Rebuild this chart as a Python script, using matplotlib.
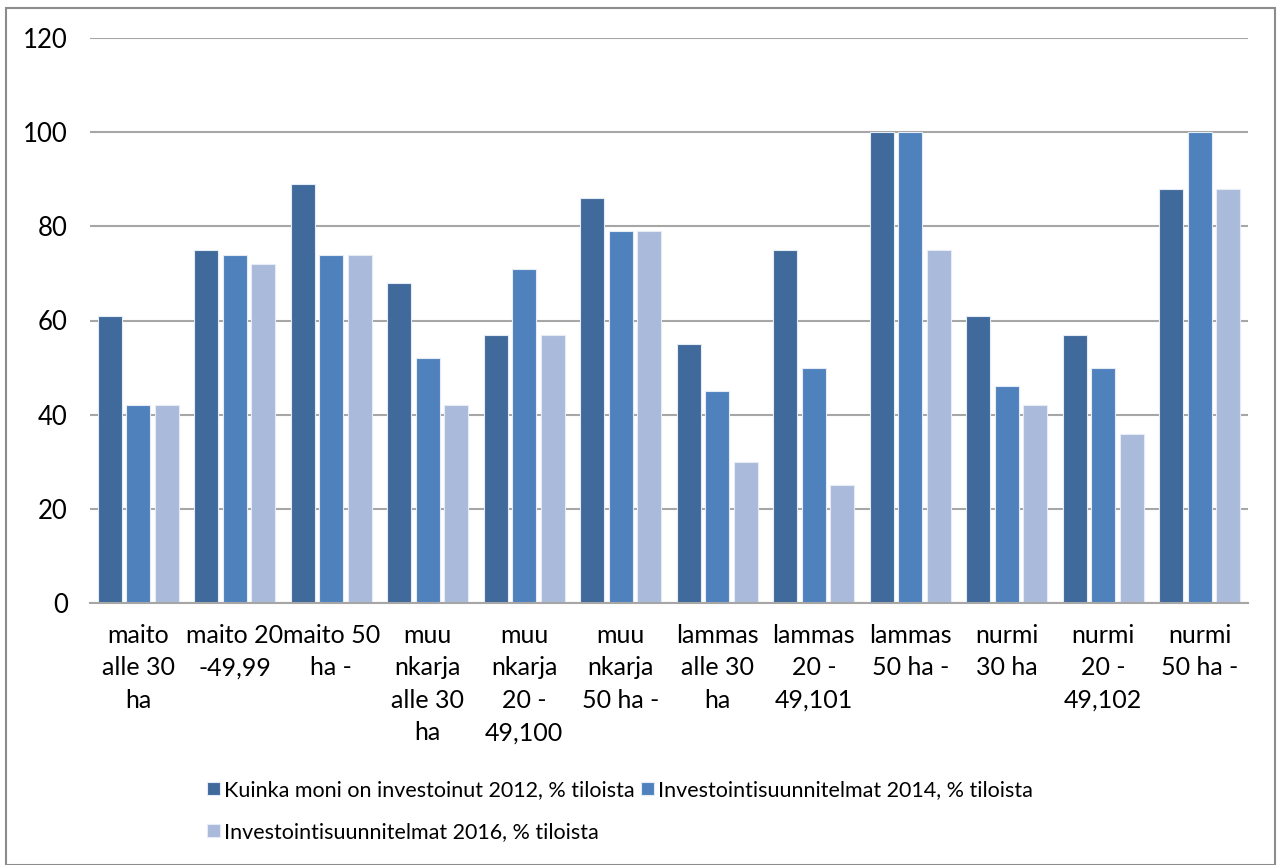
import matplotlib
matplotlib.use("Agg")
import matplotlib.pyplot as plt
import numpy as np
from matplotlib.patches import Rectangle

categories = ["maito\nalle 30\nha", "maito 20\n-49,99", "maito 50\nha -",
              "muu\nnkarja\nalle 30\nha", "muu\nnkarja\n20 -\n49,100", "muu\nnkarja\n50 ha -",
              "lammas\nalle 30\nha", "lammas\n20 -\n49,101", "lammas\n50 ha -",
              "nurmi\n30 ha", "nurmi\n20 -\n49,102", "nurmi\n50 ha -"]
series_names = ["Kuinka moni on investoinut 2012, % tiloista",
                "Investointisuunnitelmat 2014, % tiloista",
                "Investointisuunnitelmat 2016, % tiloista"]
s2012 = [61, 75, 89, 68, 57, 86, 55, 75, 100, 61, 57, 88]
s2014 = [42, 74, 74, 52, 71, 79, 45, 50, 100, 46, 50, 100]
s2016 = [42, 72, 74, 42, 57, 79, 30, 25, 75, 42, 36, 88]
yticks = [0, 20, 40, 60, 80, 100, 120]

colors = ["#3F6A9B", "#4F81BD", "#AABADA"]
plt.rcParams['font.family'] = ['Lato', 'DejaVu Sans']

fig = plt.figure(figsize=(12.77, 8.65), dpi=100)
ax = fig.add_axes([90/1277, (865-603)/865, (1248-90)/1277, (603-38)/865])

x = np.arange(len(categories))
step = 0.295
width = 0.245
for i, (vals, c, name) in enumerate(zip([s2012, s2014, s2016], colors, series_names)):
    ax.bar(x + (i-1)*step, vals, width=width, color=c, edgecolor="#E6ECF5",
           linewidth=0.8, label=name, zorder=3)

ax.set_xlim(-0.5, len(categories)-0.5)
ax.set_ylim(0, 120)
ax.set_yticks(yticks)
ax.set_yticklabels([str(v) for v in yticks], fontsize=18.5)
ax.tick_params(axis='y', length=0, pad=16)
ax.set_xticks(x)
ax.set_xticklabels(categories, fontsize=18, linespacing=1.5, va='top')
ax.tick_params(axis='x', length=0, pad=15)
ax.grid(axis='y', color='#A6A6A6', linewidth=1.5, zorder=0)
for s in ['left', 'right', 'top']:
    ax.spines[s].set_visible(False)
ax.spines['bottom'].set_color('#A6A6A6')
ax.spines['bottom'].set_linewidth(1.5)
ax.spines['bottom'].set_zorder(4)

h, l = ax.get_legend_handles_labels()
fig.legend(h[:2], l[:2], loc='center left', bbox_to_anchor=(196/1277, 1-790/865),
           ncol=2, frameon=False, fontsize=15.5, handlelength=0.6, handleheight=0.6,
           handletextpad=0.2, columnspacing=0.3, borderpad=0)
fig.legend(h[2:], l[2:], loc='center left', bbox_to_anchor=(196/1277, 1-832/865),
           frameon=False, fontsize=15.5, handlelength=0.6, handleheight=0.6,
           handletextpad=0.2, borderpad=0)

fig.patches.append(Rectangle((6/1277, 0), 1269/1277, 857/865, transform=fig.transFigure,
                             fill=False, edgecolor='#8C8C8C', linewidth=1.5))
fig.savefig("out.png", dpi=100)
